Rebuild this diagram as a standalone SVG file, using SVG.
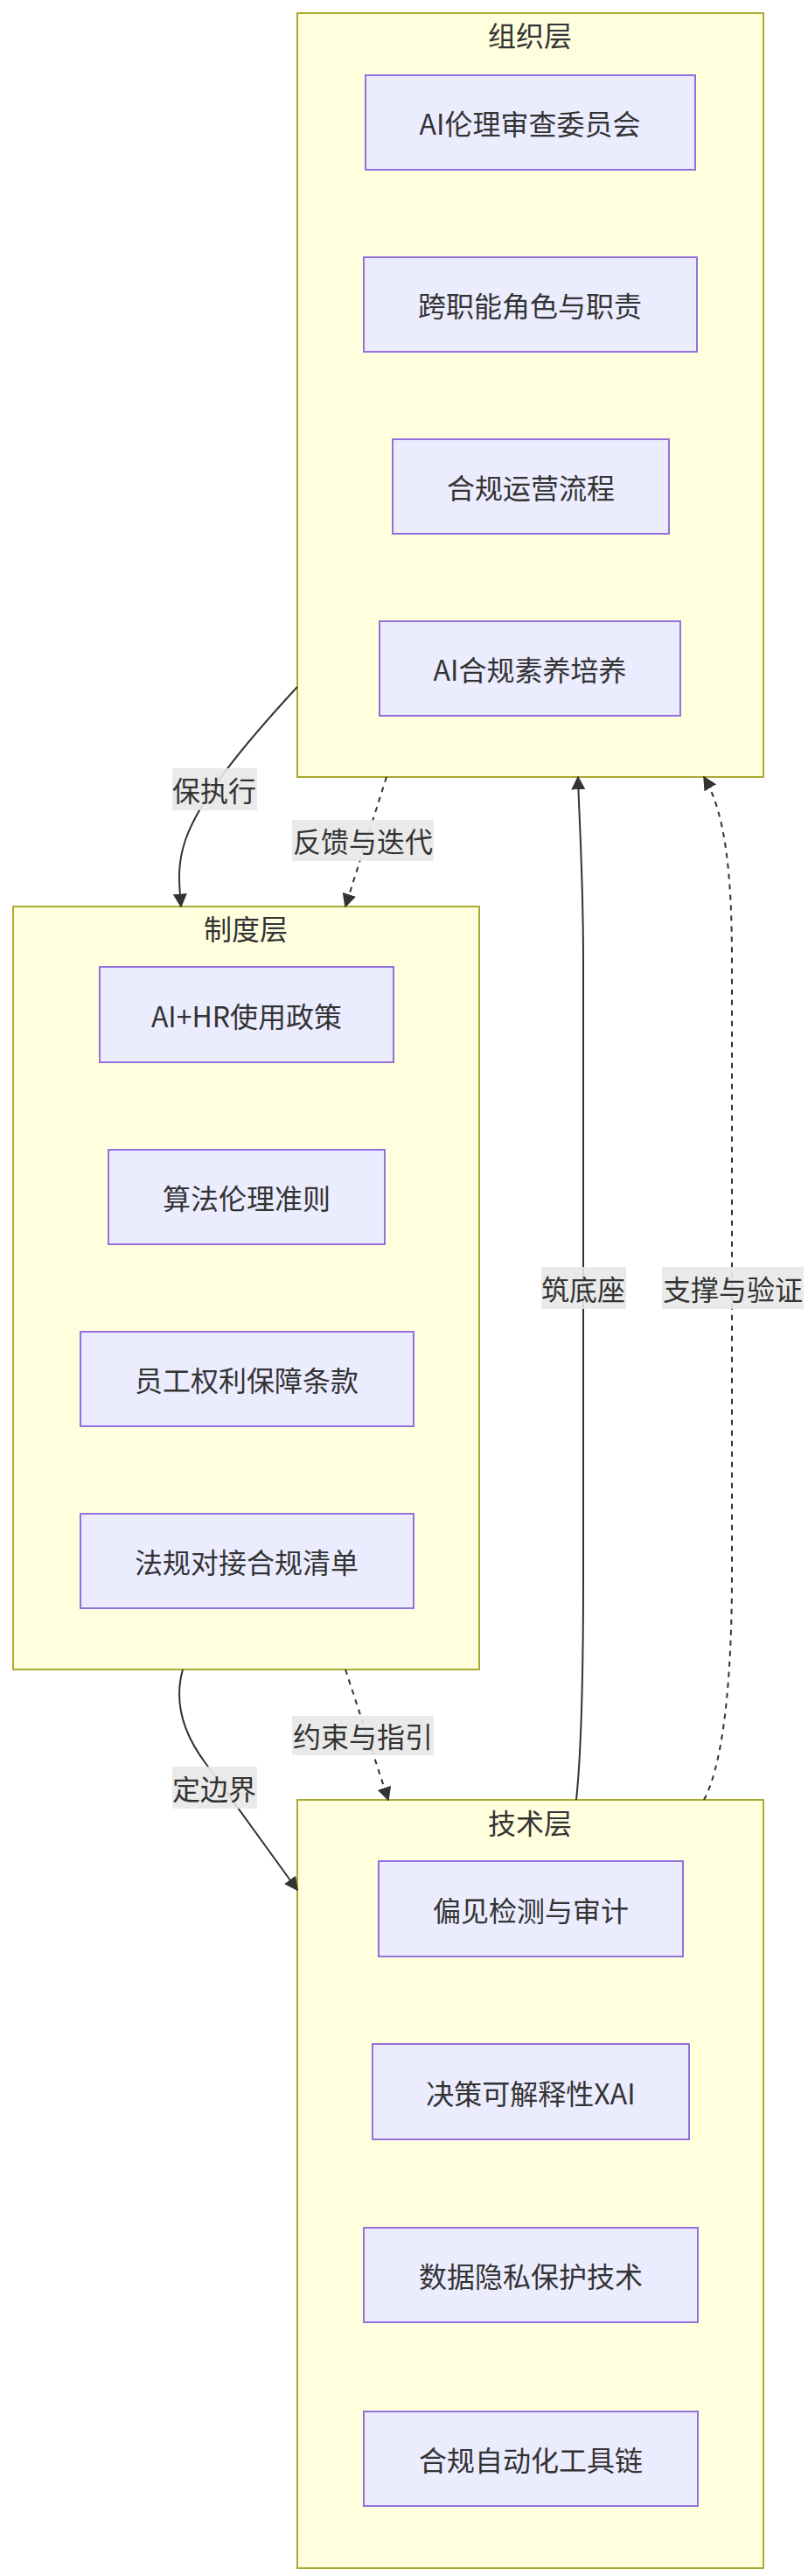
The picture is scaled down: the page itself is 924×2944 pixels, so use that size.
<svg xmlns="http://www.w3.org/2000/svg" width="924" height="2944" viewBox="0 0 924 2944">
<style>
.cl{fill:#ffffde;stroke:#aaaa33;stroke-width:2}
.nd{fill:#ececff;stroke:#9370db;stroke-width:2}
text{font-family:"Noto Sans CJK SC","Liberation Sans",sans-serif;font-size:32px;fill:#333;text-anchor:middle;dominant-baseline:central}
.e{fill:none;stroke:#333;stroke-width:2}
.d{stroke-dasharray:6 6}
.lb{fill:#e8e8e8;opacity:0.9}
</style>
<defs><marker id="a" viewBox="0 0 10 10" refX="9" refY="5" markerWidth="8" markerHeight="8" markerUnits="userSpaceOnUse" orient="auto"><path d="M0,0L10,5L0,10z" fill="#333"/></marker>
<marker id="ah" viewBox="0 0 10 10" refX="9" refY="5" markerWidth="16" markerHeight="16" markerUnits="userSpaceOnUse" orient="auto"><path d="M0,0L10,5L0,10z" fill="#333"/></marker></defs>
<g id="org"><rect class="cl" x="340" y="15" width="533" height="873"/><text x="606" y="39">组织层</text></g>
<g id="o1"><rect class="nd" x="418" y="86" width="377" height="108"/><text x="606" y="140">AI伦理审查委员会</text></g>
<g id="o2"><rect class="nd" x="416" y="294" width="381" height="108"/><text x="606" y="348">跨职能角色与职责</text></g>
<g id="o3"><rect class="nd" x="449" y="502" width="316" height="108"/><text x="607" y="556">合规运营流程</text></g>
<g id="o4"><rect class="nd" x="434" y="710" width="344" height="108"/><text x="606" y="764">AI合规素养培养</text></g>
<g id="pol"><rect class="cl" x="15" y="1036" width="533" height="872"/><text x="281" y="1060">制度层</text></g>
<g id="p1"><rect class="nd" x="114" y="1105" width="336" height="109"/><text x="282" y="1160">AI+HR使用政策</text></g>
<g id="p2"><rect class="nd" x="124" y="1314" width="316" height="108"/><text x="282" y="1368">算法伦理准则</text></g>
<g id="p3"><rect class="nd" x="92" y="1522" width="381" height="108"/><text x="282" y="1576">员工权利保障条款</text></g>
<g id="p4"><rect class="nd" x="92" y="1730" width="381" height="108"/><text x="282" y="1784">法规对接合规清单</text></g>
<g id="tech"><rect class="cl" x="340" y="2057" width="533" height="878"/><text x="606" y="2082">技术层</text></g>
<g id="t1"><rect class="nd" x="433" y="2127" width="348" height="109"/><text x="607" y="2182">偏见检测与审计</text></g>
<g id="t2"><rect class="nd" x="426" y="2336" width="362" height="109"/><text x="607" y="2391">决策可解释性XAI</text></g>
<g id="t3"><rect class="nd" x="416" y="2546" width="382" height="108"/><text x="607" y="2600">数据隐私保护技术</text></g>
<g id="t4"><rect class="nd" x="416" y="2756" width="382" height="108"/><text x="607" y="2810">合规自动化工具链</text></g>
<g id="edges">
<path class="e" marker-end="url(#ah)" d="M340,785 C280,850 230,910 212,960 C202,990 205,1010 207,1036"/>
<path class="e d" marker-end="url(#ah)" d="M442,888 L395,1036"/>
<path class="e" marker-end="url(#ah)" d="M209,1908 C200,1940 205,1975 235,2015 L340,2160"/>
<path class="e d" marker-end="url(#ah)" d="M395,1908 L444,2057"/>
<path class="e" marker-end="url(#ah)" d="M659,2057 C665,2000 667,1900 667,1800 L667,1100 C667,1000 662,930 661,888"/>
<path class="e d" marker-end="url(#ah)" d="M805,2057 C830,2010 837,1900 837,1800 L837,1100 C837,1000 830,930 805,888"/>
<rect class="lb" x="197" y="878" width="97" height="48"/><text x="245" y="902">保执行</text>
<rect class="lb" x="334" y="937" width="162" height="47"/><text x="415" y="960">反馈与迭代</text>
<rect class="lb" x="334" y="1961" width="162" height="45"/><text x="415" y="1983">约束与指引</text>
<rect class="lb" x="197" y="2019" width="97" height="48"/><text x="245" y="2043">定边界</text>
<rect class="lb" x="619" y="1448" width="97" height="48"/><text x="667" y="1472">筑底座</text>
<rect class="lb" x="757" y="1448" width="162" height="48"/><text x="838" y="1472">支撑与验证</text>
</g>
</svg>
